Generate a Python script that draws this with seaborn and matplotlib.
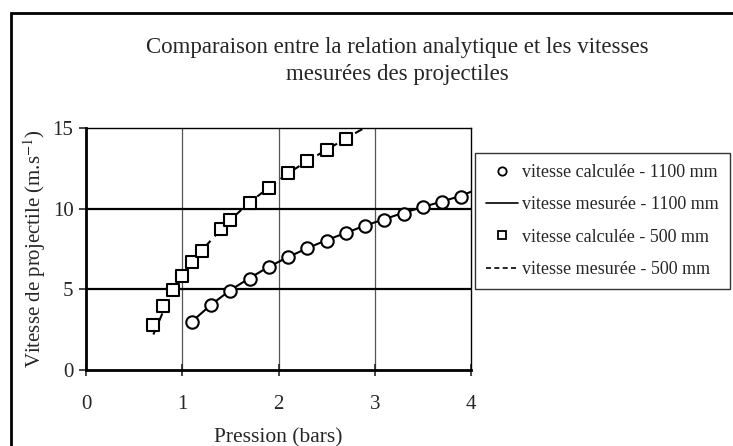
import matplotlib
matplotlib.use("Agg")
import matplotlib.pyplot as plt
import seaborn as sns
import pandas as pd
from matplotlib.patches import Rectangle
from matplotlib.lines import Line2D

# Calculated speeds (analytic relation)
p_calc_1100 = [1.1, 1.3, 1.5, 1.7, 1.9, 2.1, 2.3, 2.5, 2.7, 2.9, 3.1, 3.3, 3.5, 3.7, 3.9]
v_calc_1100 = [3.0, 4.05, 4.9, 5.66, 6.38, 7.0, 7.55, 8.0, 8.48, 8.9, 9.32, 9.7, 10.08, 10.43, 10.7]
p_calc_500 = [0.7, 0.8, 0.9, 1.0, 1.1, 1.2, 1.4, 1.5, 1.7, 1.9, 2.1, 2.3, 2.5, 2.7]
v_calc_500 = [2.8, 3.95, 4.95, 5.85, 6.7, 7.4, 8.75, 9.3, 10.35, 11.3, 12.2, 12.95, 13.65, 14.3]

# Measured speeds
p_mes_1100 = [1.1, 1.3, 1.5, 1.7, 1.9, 2.1, 2.3, 2.5, 2.7, 2.9, 3.1, 3.3, 3.5, 3.7, 3.9, 4.1]
v_mes_1100 = [3.0, 4.05, 4.95, 5.7, 6.4, 7.0, 7.55, 8.05, 8.5, 8.95, 9.35, 9.75, 10.1, 10.45, 10.8, 11.3]
p_mes_500 = [0.7, 0.8, 0.9, 1.0, 1.1, 1.2, 1.4, 1.5, 1.7, 1.9, 2.1, 2.3, 2.5, 2.7, 2.95]
v_mes_500 = [2.2, 3.6, 4.8, 5.8, 6.6, 7.4, 8.7, 9.3, 10.4, 11.3, 12.2, 12.95, 13.65, 14.35, 15.2]

x_ticks = [0, 1, 2, 3, 4]
y_ticks = [0, 5, 10, 15]

title = "Comparaison entre la relation analytique et les vitesses\nmesurées des projectiles"
x_label = "Pression (bars)"
y_label = "Vitesse de projectile (m.s$^{-1}$)"
labels = ["vitesse calculée - 1100 mm", "vitesse mesurée - 1100 mm",
          "vitesse calculée - 500 mm", "vitesse mesurée - 500 mm"]

sns.set_style("white")
plt.rcParams["font.family"] = ["Liberation Serif", "DejaVu Serif"]
plt.rcParams["mathtext.fontset"] = "stix"

W, H = 733, 446
fig = plt.figure(figsize=(W / 100, H / 100), dpi=100)
ax = fig.add_axes([86 / W, 1 - 370 / H, (471 - 86) / W, (370 - 128) / H])

calc_1100 = pd.DataFrame({"p": p_calc_1100, "v": v_calc_1100})
calc_500 = pd.DataFrame({"p": p_calc_500, "v": v_calc_500})
mes_1100 = pd.DataFrame({"p": p_mes_1100, "v": v_mes_1100})
mes_500 = pd.DataFrame({"p": p_mes_500, "v": v_mes_500})

# grid
for xv in x_ticks[1:-1]:
    ax.axvline(xv, color="#555555", lw=0.9, zorder=0)
for yv in y_ticks[1:-1]:
    ax.axhline(yv, color="black", lw=1.6, zorder=0)

sns.lineplot(data=mes_1100, x="p", y="v", ax=ax, color="black", lw=1.5,
             estimator=None, sort=False, zorder=2)
sns.lineplot(data=mes_500, x="p", y="v", ax=ax, color="black", lw=1.5,
             linestyle=(0, (4, 3)), estimator=None, sort=False, zorder=2)
sns.scatterplot(data=calc_1100, x="p", y="v", ax=ax, marker="o", s=80,
                facecolor="white", edgecolor="black", linewidth=1.5, zorder=3)
sns.scatterplot(data=calc_500, x="p", y="v", ax=ax, marker="s", s=85,
                facecolor="white", edgecolor="black", linewidth=1.5, zorder=3)

ax.set_xlim(0, 4)
ax.set_ylim(0, 15)
ax.set_xticks(x_ticks)
ax.set_yticks(y_ticks)
ax.set_xlabel(x_label, fontsize=15.5, labelpad=10)
ax.set_ylabel(y_label, fontsize=15, labelpad=3)
ax.tick_params(axis="x", direction="inout", length=8, width=1.2, labelsize=15, pad=14)
ax.tick_params(axis="y", direction="out", length=5, width=1.2, labelsize=15, pad=4)
ax.tick_params(left=True, bottom=True)

for side in ["left", "bottom"]:
    ax.spines[side].set_linewidth(2.0)
    ax.spines[side].set_color("black")
for side in ["top", "right"]:
    ax.spines[side].set_linewidth(1.0)
    ax.spines[side].set_color("black")

handles = [
    Line2D([], [], marker="o", ls="none", markerfacecolor="white",
           markeredgecolor="black", markersize=6, markeredgewidth=1.3),
    Line2D([], [], color="black", lw=1.2),
    Line2D([], [], marker="s", ls="none", markerfacecolor="white",
           markeredgecolor="black", markersize=6, markeredgewidth=1.3),
    Line2D([], [], color="black", lw=1.2, linestyle=(0, (3, 2))),
]
fig.legend(handles, labels, loc="upper left",
           bbox_to_anchor=(475 / W, 1 - 153 / H), bbox_transform=fig.transFigure,
           frameon=True, fancybox=False, edgecolor="black", fontsize=13,
           handlelength=1.8, handletextpad=0.2, labelspacing=0.85,
           borderpad=0.6, borderaxespad=0)
leg = fig.legends[0]
leg.get_frame().set_linewidth(1.0)

fig.text(397 / W, 1 - 61 / H, title, ha="center", va="center",
         fontsize=16.5, linespacing=1.35)

# outer frame (left and top edges visible)
fig.patches.append(Rectangle((11 / W, -0.05), 1.1, 1 - 13 / H + 0.05,
                             transform=fig.transFigure, fill=False,
                             edgecolor="black", lw=2.0))

fig.savefig("out.png", dpi=100)
